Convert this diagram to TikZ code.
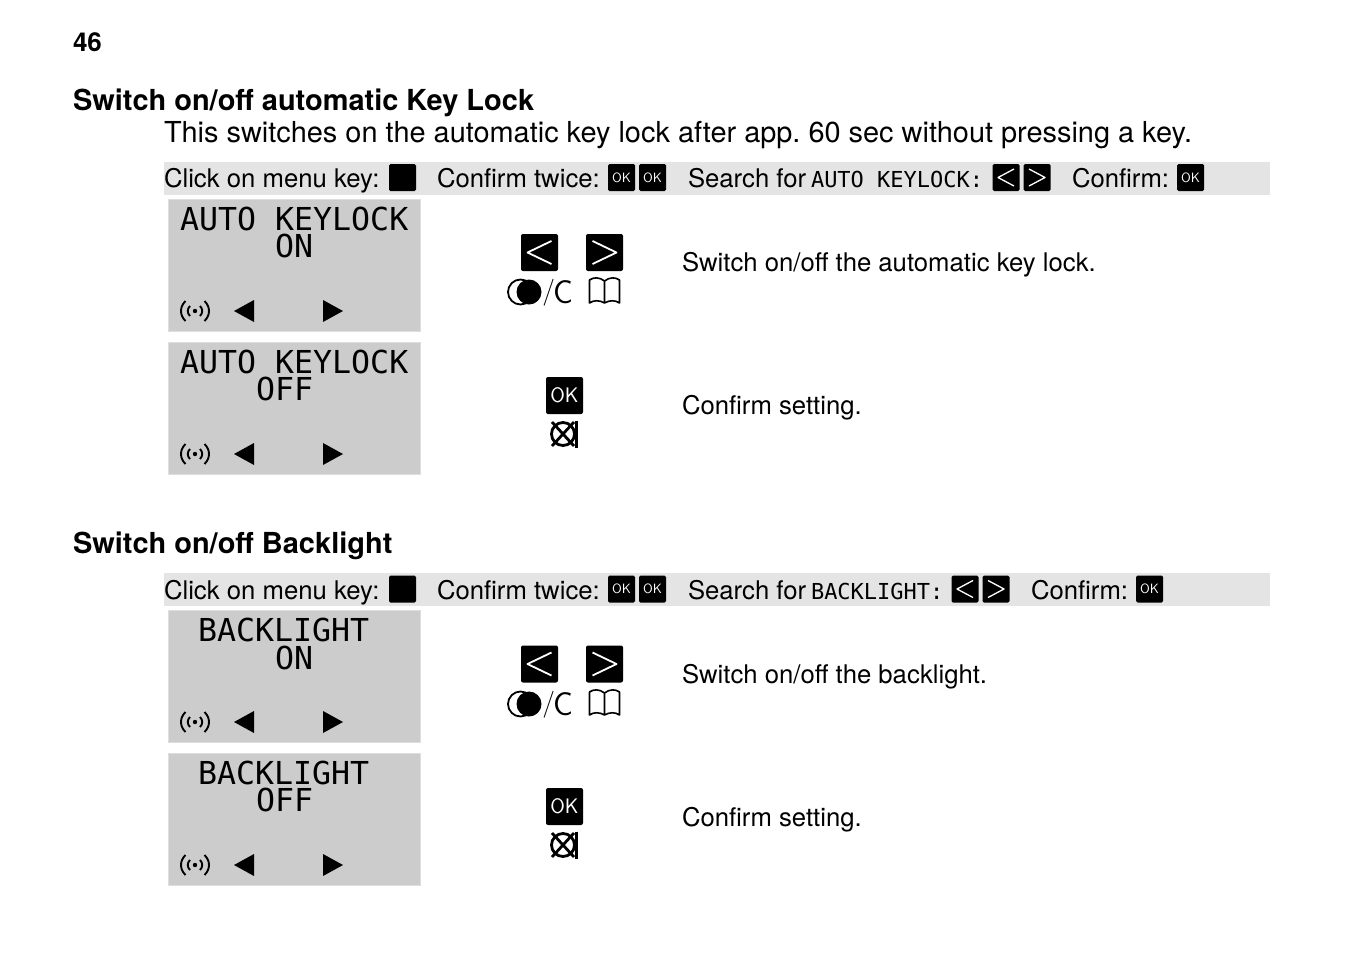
\documentclass[tikz,border=0pt]{standalone}
\usepackage{fontspec}
\setmainfont{TeX Gyre Heros}
\newfontfamily\lcdfont{DejaVu Sans Mono}
\definecolor{barcol}{HTML}{E4E4E4}
\definecolor{lcdcol}{HTML}{CCCCCC}
\definecolor{lcdedge}{HTML}{DEDEDE}
\frenchspacing
\tikzset{
  lessmark/.pic={\draw [white,line width=1.8,line join=round] (12,-11.5) -- (-12,0) -- (12,11.5);},
  moremark/.pic={\draw [white,line width=1.8,line join=round] (-12,-11.5) -- (12,0) -- (-12,11.5);},
  lessmini/.pic={\draw [white,line width=1.3,line join=round] (8,-8.5) -- (-8,0) -- (8,8.5);},
  moremini/.pic={\draw [white,line width=1.3,line join=round] (-8,-8.5) -- (8,0) -- (-8,8.5);},
  aerial/.pic={
    \fill [black] (0,0) circle (2.2);
    \draw [black,line width=1.9] (-5,-5) .. controls (-8,-2) and (-8,2) .. (-5,5);
    \draw [black,line width=1.9] (-9.5,-10) .. controls (-15.5,-4) and (-15.5,4) .. (-9.5,10);
    \draw [black,line width=1.9] (5,-5) .. controls (8,-2) and (8,2) .. (5,5);
    \draw [black,line width=1.9] (9.5,-10) .. controls (15.5,-4) and (15.5,4) .. (9.5,10);
  },
  moonmark/.pic={
    \draw [black,line width=1.8] (0,0) circle (12.5);
    \fill [black] (8.5,0) circle (12.5);
  },
  bookmark/.pic={
    \draw [black,line width=1.6,line join=round] (0,-10) .. controls (-5,-14) and (-11,-14) .. (-15,-11) -- (-15,12)
      .. controls (-11,9) and (-5,9) .. (0,12) .. controls (5,9) and (11,9) .. (15,12) -- (15,-11)
      .. controls (11,-14) and (5,-14) .. (0,-10) -- (0,12);
  },
  crossmark/.pic={
    \draw [black,line width=2.8] (0,0) circle (11.5);
    \draw [black,line width=2.8] (-11,-12) -- (11,12);
    \draw [black,line width=2.8] (-11,12) -- (11,-12);
    \draw [black,line width=3] (13.5,-13.5) -- (13.5,13.5);
  }
}
\begin{document}
\begin{tikzpicture}[x=1pt,y=-1pt]
\tikzstyle{every node}+=[inner sep=0pt,outer sep=0pt]
\tikzstyle{headtext}=[anchor=base west,font=\fontsize{28.95}{30}\selectfont\bfseries]
\tikzstyle{pagetext}=[anchor=base west,font=\fontsize{26}{30}\selectfont\bfseries]
\tikzstyle{bodytext}=[anchor=base west,font=\fontsize{28.9}{30}\selectfont]
\tikzstyle{bartext}=[anchor=base west,font=\fontsize{25.7}{30}\selectfont]
\tikzstyle{notetext}=[anchor=base west,font=\fontsize{25.7}{30}\selectfont]
\tikzstyle{barmono}=[anchor=base west,font=\lcdfont\fontsize{22}{24}\selectfont]
\tikzstyle{lcdtext}=[anchor=base west,font=\lcdfont\fontsize{31.6}{34}\selectfont]
\tikzstyle{bar}=[fill=barcol,minimum width=1106,minimum height=33,anchor=north west]
\tikzstyle{lcd}=[fill=lcdcol,draw=lcdedge,line width=1.5,minimum width=252,minimum height=132,anchor=north west]
\tikzstyle{menukey}=[fill=black,rounded corners=1.5,minimum size=27]
\tikzstyle{bigkey}=[fill=black,rounded corners=2,minimum size=37]
\tikzstyle{okmini}=[menukey,text=white,font=\sffamily\fontsize{13.5}{15}\selectfont]
\tikzstyle{okbig}=[bigkey,text=white,font=\sffamily\fontsize{21}{24}\selectfont]
\tikzstyle{cee}=[anchor=base east,font=\sffamily\fontsize{33}{39}\selectfont]
\tikzstyle{tri}=[fill=black,draw=none]
\useasboundingbox (0,0) rectangle (1345,954);
\fill [white] (0,0) rectangle (1345,954);
\node [pagetext] (page) at (73,51.5) {46};
% first block
\node [headtext] (title1) at (73,110) {Switch on/off automatic Key Lock};
\node [bodytext] (intro1) at (164,142) {This switches on the automatic key lock after app. 60 sec without pressing a key.};
\node [bar] (bar1) at (164,162) {};
\node [bartext] (click1) at (164,187.5) {Click on menu key:};
\node [menukey] (menu1) at (402.5,177.5) {};
\node [bartext] (twice1) at (437,187.5) {Confirm twice:};
\node [okmini] (oka1) at (621.5,177.5) {OK};
\node [okmini] (okb1) at (652.5,177.5) {OK};
\node [bartext] (search1) at (688,187.5) {Search for};
\node [barmono] (word1) at (811,187) {AUTO KEYLOCK:};
\node [menukey] (less1) at (1006,177.5) {};
\pic at (less1) {lessmini};
\node [menukey] (more1) at (1037,177.5) {};
\pic at (more1) {moremini};
\node [bartext] (conf1) at (1072,187.5) {Confirm:};
\node [okmini] (okc1) at (1190.5,177.5) {OK};
% first panel
\node [lcd] (lcda) at (168.5,199.5) {};
\node [lcdtext] (lcdaa) at (180,230) {AUTO KEYLOCK};
\node [lcdtext] (lcdab) at (275,257) {ON};
\pic at (195,311) {aerial};
\fill [tri] (234,311) -- (254,300) -- (254,322) -- cycle;
\fill [tri] (343,311) -- (323,300) -- (323,322) -- cycle;
\node [bigkey] (lessa) at (539.5,252.5) {};
\pic at (lessa) {lessmark};
\node [bigkey] (morea) at (604.5,252.5) {};
\pic at (morea) {moremark};
\pic at (520.5,292) {moonmark};
\node [cee] (ceea) at (573,303) {\raisebox{3.5pt}{\fontsize{27}{30}\selectfont /}\kern-2pt C};
\pic at (604.5,291) {bookmark};
\node [notetext] (notea) at (682,271.5) {Switch on/off the automatic key lock.};
% second panel
\node [lcd] (lcdb) at (168.5,342.5) {};
\node [lcdtext] (lcdba) at (180,373) {AUTO KEYLOCK};
\node [lcdtext] (lcdbb) at (256,400) {OFF};
\pic at (195,454) {aerial};
\fill [tri] (234,454) -- (254,443) -- (254,465) -- cycle;
\fill [tri] (343,454) -- (323,443) -- (323,465) -- cycle;
\node [okbig] (okb) at (564.5,395.5) {OK};
\pic at (563,434) {crossmark};
\node [notetext] (noteb) at (682,414.5) {Confirm setting.};
% second block
\node [headtext] (title2) at (73,553) {Switch on/off Backlight};
\node [bar] (bar2) at (164,573) {};
\node [bartext] (click2) at (164,599.5) {Click on menu key:};
\node [menukey] (menu2) at (402.5,589) {};
\node [bartext] (twice2) at (437,599.5) {Confirm twice:};
\node [okmini] (oka2) at (621.5,589) {OK};
\node [okmini] (okb2) at (652.5,589) {OK};
\node [bartext] (search2) at (688,599.5) {Search for};
\node [barmono] (word2) at (811,599) {BACKLIGHT:};
\node [menukey] (less2) at (965,589) {};
\pic at (less2) {lessmini};
\node [menukey] (more2) at (996,589) {};
\pic at (more2) {moremini};
\node [bartext] (conf2) at (1031,599.5) {Confirm:};
\node [okmini] (okc2) at (1149.5,589) {OK};
% third panel
\node [lcd] (lcdc) at (168.5,610.5) {};
\node [lcdtext] (lcdca) at (198,641) {BACKLIGHT};
\node [lcdtext] (lcdcb) at (275,669) {ON};
\pic at (195,722) {aerial};
\fill [tri] (234,722) -- (254,711) -- (254,733) -- cycle;
\fill [tri] (343,722) -- (323,711) -- (323,733) -- cycle;
\node [bigkey] (lessc) at (539.5,664) {};
\pic at (lessc) {lessmark};
\node [bigkey] (morec) at (604.5,664) {};
\pic at (morec) {moremark};
\pic at (520.5,704) {moonmark};
\node [cee] (ceec) at (573,715) {\raisebox{3.5pt}{\fontsize{27}{30}\selectfont /}\kern-2pt C};
\pic at (604.5,703) {bookmark};
\node [notetext] (notec) at (682,683.5) {Switch on/off the backlight.};
% fourth panel
\node [lcd] (lcdd) at (168.5,753.5) {};
\node [lcdtext] (lcdda) at (198,784) {BACKLIGHT};
\node [lcdtext] (lcddb) at (256,811) {OFF};
\pic at (195,865) {aerial};
\fill [tri] (234,865) -- (254,854) -- (254,876) -- cycle;
\fill [tri] (343,865) -- (323,854) -- (323,876) -- cycle;
\node [okbig] (okd) at (564.5,806.5) {OK};
\pic at (563,845) {crossmark};
\node [notetext] (noted) at (682,826.5) {Confirm setting.};
\end{tikzpicture}
\end{document}
